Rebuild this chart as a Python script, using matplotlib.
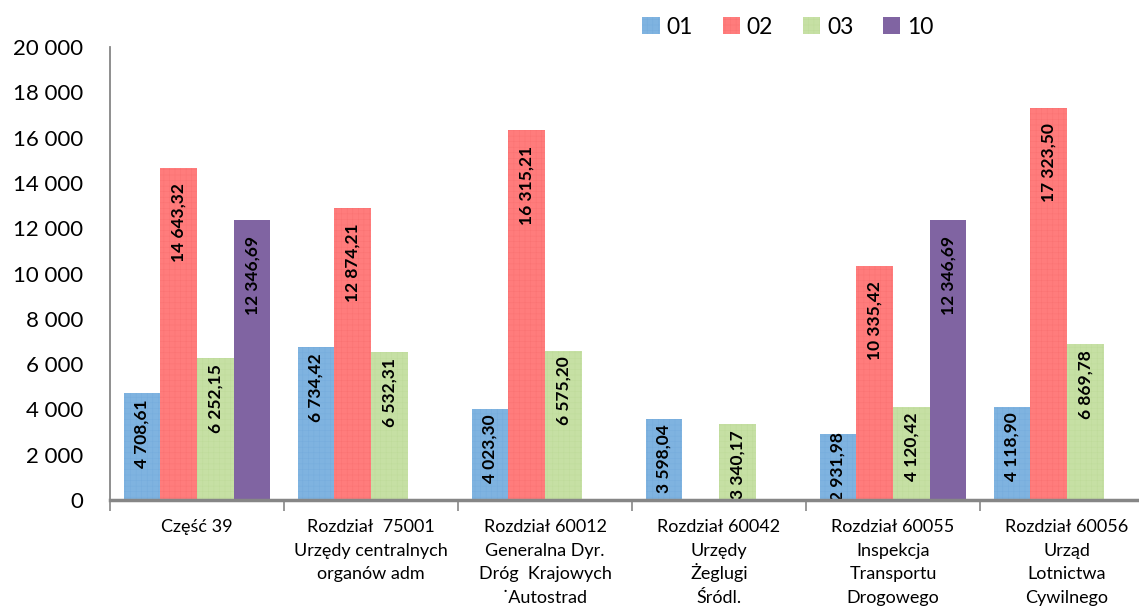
import numpy as np
import matplotlib.pyplot as plt
import matplotlib.transforms as mtransforms

plt.rcParams['font.family'] = ['Lato', 'DejaVu Sans']
plt.rcParams['hatch.linewidth'] = 0.35

# data
categories = ['Część 39',
              'Rozdział  75001\nUrzędy centralnych\norganów adm',
              'Rozdział 60012\nGeneralna Dyr.\nDróg  Krajowych\n˙Autostrad',
              'Rozdział 60042\nUrzędy\nŻeglugi\nŚródl.',
              'Rozdział 60055\nInspekcja\nTransportu\nDrogowego',
              'Rozdział 60056\nUrząd\nLotnictwa\nCywilnego']
series_names = ['01', '02', '03', '10']
s01 = [4708.61, 6734.42, 4023.30, 3598.04, 2931.98, 4118.90]
s02 = [14643.32, 12874.21, 16315.21, np.nan, 10335.42, 17323.50]
s03 = [6252.15, 6532.31, 6575.20, 3340.17, 4120.42, 6869.78]
s10 = [12346.69, np.nan, np.nan, np.nan, 12346.69, np.nan]

fills = ['#7fb3e0', '#ff7c7c', '#c6e0a4', '#8064a2']
hatch_cols = ['#76acdc', '#fa7272', '#bedb9a', '#8064a2']
hatches = ['+++', '+++', '+++', None]


def fmt(v):
    s = f'{v:,.2f}'
    return s.replace(',', ' ').replace('.', ',')


fig = plt.figure(figsize=(11.39, 6.06), dpi=100)
ax = fig.add_axes([110 / 1139, 1 - 500 / 606, 1044 / 1139, 453 / 606])

x = np.arange(len(categories))
w = 0.211
for i, (name, vals) in enumerate(zip(series_names, [s01, s02, s03, s10])):
    pos = x + (i - 1.5) * w
    ax.bar(pos, vals, w, color=fills[i], edgecolor=hatch_cols[i],
           linewidth=0, hatch=hatches[i], label=name)
    # value labels just inside the top of each bar
    for p, v in zip(pos, vals):
        if np.isnan(v):
            continue
        if v >= 10000:
            gap = 11
        elif v >= 3000:
            gap = 4
        else:
            gap = -1
        ax.annotate(fmt(v), (p, v), xytext=(0, -gap), textcoords='offset points',
                    rotation=90, ha='center', va='top',
                    fontsize=12.5, fontweight='bold', color='black')

ax.set_xlim(-0.5, len(categories) - 0.5)
ax.set_ylim(0, 20000)
ax.set_yticks(np.arange(0, 20001, 2000))
ax.set_yticklabels([f'{v:,}'.replace(',', ' ') for v in range(0, 20001, 2000)],
                   fontsize=16)
ax.tick_params(axis='y', length=0, pad=19.5)

# category labels, one text per line for even spacing
ax.set_xticks([])
ax.set_xticks(np.arange(-0.5, len(categories), 1), minor=True)
ax.tick_params(axis='x', which='minor', length=8, width=1.2, color='#868686')
trans = mtransforms.blended_transform_factory(ax.transData, ax.transAxes)
for xi, label in zip(x, categories):
    for k, line in enumerate(label.split('\n')):
        off = mtransforms.offset_copy(trans, fig=fig, y=-(32 + 23.7 * k), units='dots')
        ax.text(xi, 0, line, transform=off, ha='center', va='baseline',
                fontsize=13)

for side in ['top', 'right']:
    ax.spines[side].set_visible(False)
ax.spines['left'].set_color('#868686')
ax.spines['left'].set_linewidth(1.3)
ax.spines['bottom'].set_color('#868686')
ax.spines['bottom'].set_linewidth(2.5)
ax.spines['bottom'].set_zorder(3)

fig.legend(loc='center', bbox_to_anchor=(788 / 1139, 1 - 27 / 606), ncol=4,
           frameon=False, fontsize=16.5, handlelength=0.75, handleheight=0.75,
           handletextpad=0.3, columnspacing=1.3)

fig.savefig('out.png', dpi=100)
